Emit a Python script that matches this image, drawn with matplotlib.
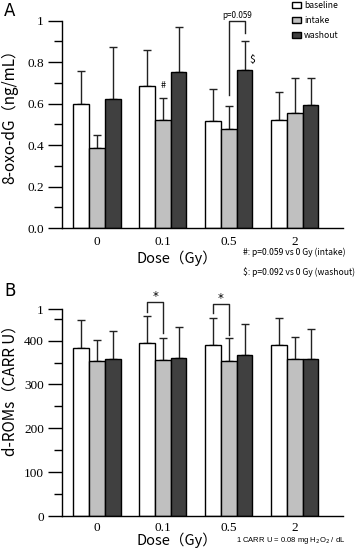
import numpy as np
import matplotlib
matplotlib.use("Agg")
import matplotlib.pyplot as plt

plt.rcParams['font.family'] = ['Noto Sans CJK JP', 'DejaVu Sans']

doses = ["0", "0.1", "0.5", "2"]
series = ["baseline", "intake", "washout"]
colors = ["white", "#c0c0c0", "#404040"]

# panel A: 8-oxo-dG (ng/mL), mean and upper error
oxo_mean = [[0.60, 0.687, 0.518, 0.522],
            [0.385, 0.523, 0.477, 0.554],
            [0.624, 0.753, 0.761, 0.592]]
oxo_err = [[0.159, 0.172, 0.153, 0.136],
           [0.064, 0.103, 0.112, 0.167],
           [0.251, 0.215, 0.141, 0.132]]

# panel B: d-ROMs (CARR U)
rom_mean = [[383, 394, 390, 390],
            [354, 356, 353, 357],
            [357, 360, 367, 357]]
rom_err = [[63, 61, 62, 61],
           [48, 49, 52, 51],
           [64, 70, 71, 70]]

serif = 'Liberation Serif'
W = 0.238
x = np.arange(len(doses))

fig = plt.figure(figsize=(3.58, 5.59), dpi=100)
axA = fig.add_axes([0.1732, 0.5921, 0.785, 0.371])
axB = fig.add_axes([0.1732, 0.0769, 0.785, 0.3703])


def draw_bars(ax, means, errs, xpad):
    handles = []
    for i in range(3):
        b = ax.bar(x + (i - 1) * W, means[i], W, color=colors[i],
                   edgecolor='black', linewidth=1.0, zorder=2, label=series[i])
        ax.errorbar(x + (i - 1) * W, means[i], yerr=[np.zeros(4), errs[i]],
                    fmt='none', ecolor='#222222', elinewidth=1.0,
                    capsize=3, capthick=1.0, zorder=1)
        handles.append(b)
    ax.set_xlim(-0.53, 3.73)
    ax.set_xticks(x)
    ax.set_xticklabels(doses)
    ax.tick_params(axis='both', labelfontfamily=serif, labelsize=9.5)
    ax.tick_params(axis='x', length=0, pad=xpad)
    ax.tick_params(axis='y', which='major', length=10, width=1.0, pad=3)
    ax.tick_params(axis='y', which='minor', length=6, width=1.0)
    for s in ['top', 'right']:
        ax.spines[s].set_visible(False)
    for s in ['left', 'bottom']:
        ax.spines[s].set_linewidth(1.0)
    return handles


handles = draw_bars(axA, oxo_mean, oxo_err, 6)
axA.set_ylim(0, 1)
axA.set_yticks([0, 0.2, 0.4, 0.6, 0.8, 1.0])
axA.set_yticklabels(["0.0", "0.2", "0.4", "0.6", "0.8", "1"])
axA.set_yticks(np.arange(0.1, 1.0, 0.2), minor=True)

# bracket and marks in A
axA.plot([2.0, 2.0, 2 + W, 2 + W], [0.64, 1.0, 1.0, 0.94], color='#222222',
         lw=1.0, clip_on=False)
axA.text(2 + W / 2, 1.027, "p=0.059", ha='center', va='center', fontsize=5.8)
axA.text(1.0, 0.685, "#", ha='center', va='center', fontsize=6.5)
axA.text(2.35, 0.81, "$", ha='center', va='center', fontsize=7.5)

fig.legend(handles=handles, loc='upper left', bbox_to_anchor=(292 / 358, 1 - 1 / 559),
           frameon=False, fontsize=6.2, handlelength=1.0, handleheight=0.8,
           handletextpad=0.4, labelspacing=0.7, borderpad=0, borderaxespad=0)

fig.text(4 / 358, 1 - 2 / 559, "A", fontsize=12, va='top', ha='left', family='DejaVu Sans')
fig.text(10 / 358, 1 - 113 / 559, "8-oxo-dG（ng/mL）", rotation=90, fontsize=11,
         ha='center', va='center')
fig.text(177 / 358, 1 - 258 / 559, "Dose（Gy）", fontsize=10.5, ha='center', va='center')
fig.text(243 / 358, 1 - 252 / 559, "#: p=0.059 vs 0 Gy (intake)", fontsize=6.2,
         ha='left', va='center')
fig.text(243 / 358, 1 - 272 / 559, "$: p=0.092 vs 0 Gy (washout)", fontsize=6.2,
         ha='left', va='center')

# panel B
draw_bars(axB, rom_mean, rom_err, 4)
top = 472
axB.set_ylim(0, top)
axB.set_yticks([0, 100, 200, 300, 400, top])
axB.set_yticklabels(["0", "100", "200", "300", "400", "1"])
axB.set_yticks([50, 150, 250, 350, 450], minor=True)

for g, (yl, yt, yr) in zip([1, 2], [(466, 487, 417), (462, 483, 413)]):
    axB.plot([g - W, g - W, g, g], [yl, yt, yt, yr], color='#222222', lw=1.0, clip_on=False)
    axB.text(g - W / 2, yt + 14, "*", ha='center', va='center', fontsize=8.5,
             family='DejaVu Sans')

fig.text(4 / 358, 1 - 282 / 559, "B", fontsize=12, va='top', ha='left', family='DejaVu Sans')
fig.text(10 / 358, 1 - 387 / 559, "d-ROMs（CARR U）", rotation=90, fontsize=11,
         ha='center', va='center')
fig.text(177 / 358, 1 - 540 / 559, "Dose（Gy）", fontsize=10.5, ha='center', va='center')
fig.text(236 / 358, 1 - 541 / 559, "1 CARR U = 0.08 mg H$_2$O$_2$ / dL", fontsize=5.5,
         ha='left', va='center', family='Liberation Sans')

fig.savefig("out.png", dpi=100)
